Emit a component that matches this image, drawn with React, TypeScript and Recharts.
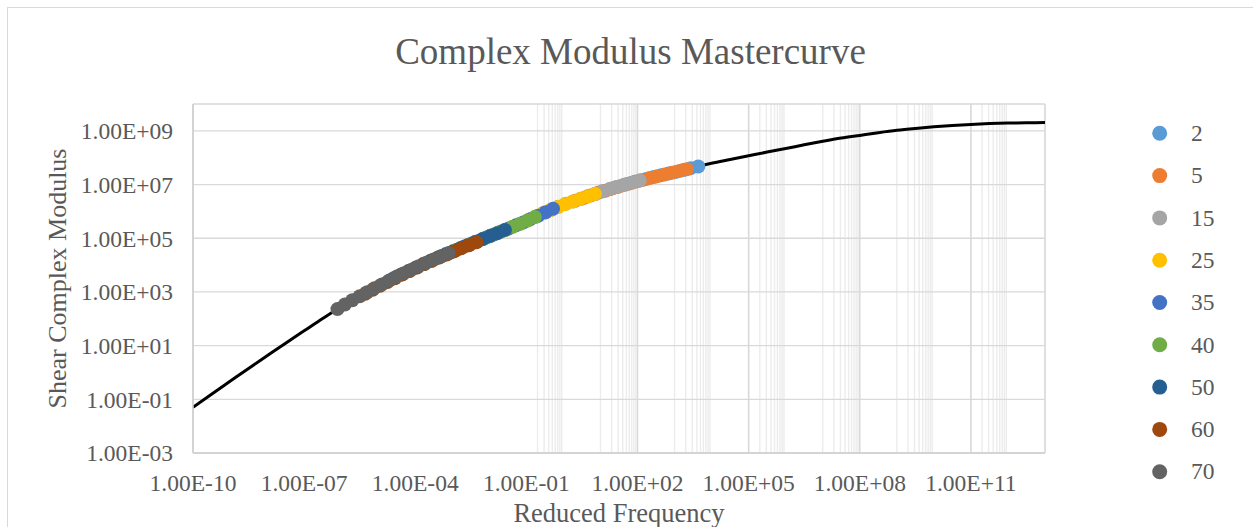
import React from 'react';
import { ComposedChart, Line, Scatter, XAxis, YAxis, CartesianGrid } from 'recharts';

// ---- data (log10 values) ----
const curveLogF = [-10, -9.5, -9, -8.5, -8, -7.5, -7, -6.5, -6, -5.5, -5, -4.5, -4, -3.5, -3, -2.5, -2, -1.5, -1, -0.5, 0, 0.5, 1, 1.5, 2, 2.5, 3, 3.5, 4, 4.5, 5, 5.5, 6, 6.5, 7, 7.5, 8, 8.5, 9, 9.5, 10, 10.5, 11, 11.5, 12, 12.5, 13];
const curveLogG = [-1.30, -0.81, -0.33, 0.15, 0.62, 1.09, 1.55, 2.01, 2.45, 2.84, 3.21, 3.57, 3.90, 4.21, 4.50, 4.79, 5.07, 5.35, 5.64, 5.96, 6.25, 6.48, 6.72, 6.93, 7.13, 7.30, 7.46, 7.63, 7.79, 7.93, 8.07, 8.21, 8.34, 8.48, 8.61, 8.73, 8.83, 8.93, 9.02, 9.09, 9.15, 9.20, 9.24, 9.27, 9.29, 9.30, 9.31];

const seriesNames = ['2', '5', '15', '25', '35', '40', '50', '60', '70'];
const seriesColors = ['#5B9BD5', '#ED7D31', '#A5A5A5', '#FFC000', '#4472C4', '#70AD47', '#255E91', '#9E480E', '#636363'];

const t2LogF = [0.64, 0.84, 1.04, 1.24, 1.44, 1.64, 1.84, 2.04, 2.24, 2.44, 2.64, 2.84, 3.04, 3.24, 3.44, 3.64];
const t2LogG = [6.55, 6.64, 6.74, 6.82, 6.91, 6.99, 7.07, 7.14, 7.21, 7.28, 7.35, 7.41, 7.47, 7.54, 7.61, 7.67];
const t5LogF = [0.33, 0.53, 0.73, 0.93, 1.13, 1.33, 1.53, 1.73, 1.93, 2.13, 2.33, 2.53, 2.73, 2.93, 3.13, 3.33];
const t5LogG = [6.40, 6.49, 6.59, 6.69, 6.77, 6.86, 6.94, 7.02, 7.10, 7.17, 7.24, 7.31, 7.37, 7.44, 7.50, 7.57];
const t15LogF = [-0.94, -0.74, -0.54, -0.34, -0.14, 0.06, 0.26, 0.46, 0.66, 0.86, 1.06, 1.26, 1.46, 1.66, 1.86, 2.06];
const t15LogG = [5.68, 5.81, 5.94, 6.05, 6.17, 6.28, 6.37, 6.46, 6.56, 6.65, 6.75, 6.83, 6.91, 6.99, 7.07, 7.15];
const t25LogF = [-2.15, -1.95, -1.75, -1.55, -1.35, -1.15, -0.95, -0.75, -0.55, -0.35, -0.15, 0.05, 0.25, 0.45, 0.65, 0.85];
const t25LogG = [4.99, 5.10, 5.21, 5.32, 5.44, 5.55, 5.67, 5.80, 5.93, 6.05, 6.16, 6.27, 6.37, 6.46, 6.55, 6.65];
const t35LogF = [-3.28, -3.08, -2.88, -2.68, -2.48, -2.28, -2.08, -1.88, -1.68, -1.48, -1.28, -1.08, -0.88, -0.68, -0.48, -0.28];
const t35LogG = [4.34, 4.45, 4.57, 4.69, 4.80, 4.91, 5.03, 5.14, 5.25, 5.36, 5.48, 5.59, 5.72, 5.84, 5.97, 6.10];
const t40LogF = [-3.77, -3.57, -3.37, -3.17, -2.97, -2.77, -2.57, -2.37, -2.17, -1.97, -1.77, -1.57, -1.37, -1.17, -0.97, -0.77];
const t40LogG = [4.04, 4.17, 4.29, 4.40, 4.52, 4.63, 4.75, 4.86, 4.97, 5.09, 5.20, 5.31, 5.43, 5.54, 5.66, 5.79];
const t50LogF = [-4.58, -4.38, -4.18, -3.98, -3.78, -3.58, -3.38, -3.18, -2.98, -2.78, -2.58, -2.38, -2.18, -1.98, -1.78, -1.58];
const t50LogG = [3.51, 3.65, 3.78, 3.91, 4.04, 4.16, 4.28, 4.40, 4.51, 4.63, 4.74, 4.86, 4.97, 5.08, 5.19, 5.31];
const t60LogF = [-5.35, -5.15, -4.95, -4.75, -4.55, -4.35, -4.15, -3.95, -3.75, -3.55, -3.35, -3.15, -2.95, -2.75, -2.55, -2.35];
const t60LogG = [2.93, 3.08, 3.23, 3.37, 3.51, 3.65, 3.78, 3.91, 4.04, 4.16, 4.28, 4.39, 4.51, 4.63, 4.74, 4.85];
const t70LogF = [-6.1, -5.9, -5.7, -5.5, -5.3, -5.1, -4.9, -4.7, -4.5, -4.3, -4.1, -3.9, -3.7, -3.5, -3.3, -3.1];
const t70LogG = [2.36, 2.53, 2.69, 2.84, 2.99, 3.14, 3.28, 3.43, 3.57, 3.70, 3.83, 3.96, 4.09, 4.21, 4.33, 4.44];

const seriesLogF = [t2LogF, t5LogF, t15LogF, t25LogF, t35LogF, t40LogF, t50LogF, t60LogF, t70LogF];
const seriesLogG = [t2LogG, t5LogG, t15LogG, t25LogG, t35LogG, t40LogG, t50LogG, t60LogG, t70LogG];

// ---- axes ----
const xTicks = [1e-10, 1e-7, 1e-4, 1e-1, 1e2, 1e5, 1e8, 1e11];
const yTicks = [1e-3, 1e-1, 1e1, 1e3, 1e5, 1e7, 1e9];
const xDomain = [1e-10, 1e13];
const yDomain = [1e-3, 1e10];
const majorGridX = [1e2, 1e5, 1e8, 1e11];
const minorGridExps = [-1, 1, 3, 5, 7, 9, 11];
const minorGridMults = [1, 2, 3, 4, 5, 6, 7, 8, 9];
const minorGridX: number[] = [];
minorGridExps.forEach((e) => {
  minorGridMults.forEach((m) => {
    if (!(e === -1 && m === 1)) minorGridX.push(m * Math.pow(10, e));
  });
});
minorGridX.push(1e13);

const toPts = (lf: number[], lg: number[]) => lf.map((v, i) => ({ f: Math.pow(10, v), g: Math.pow(10, lg[i]) }));
const curveData = toPts(curveLogF, curveLogG);

const fmt = (v: number) => {
  const [m, e] = v.toExponential(2).split('e');
  const n = parseInt(e, 10);
  return `${m}E${n < 0 ? '-' : '+'}${String(Math.abs(n)).padStart(2, '0')}`;
};

const FONT = '"Liberation Serif", "Times New Roman", Times, serif';
const TXT = '#595959';

export default function App() {
  return (
    <div style={{ position: 'absolute', left: 0, top: 0, width: 1253, height: 527, overflow: 'hidden', background: '#fff', fontFamily: FONT }}>
      <div style={{ position: 'absolute', left: 7, top: 7, width: 1270, height: 540, border: '1px solid #d9d9d9', boxSizing: 'border-box' }} />
      <div style={{ position: 'absolute', left: 0, top: 0 }}>
        <ComposedChart width={1253} height={527} margin={{ top: 104, right: 208, bottom: 0, left: 0 }}>
          <XAxis xAxisId="minor" type="number" dataKey="f" scale="log" domain={xDomain} allowDataOverflow ticks={minorGridX} interval={0} hide />
          <XAxis xAxisId="major" type="number" dataKey="f" scale="log" domain={xDomain} allowDataOverflow ticks={majorGridX} interval={0} hide />
          <CartesianGrid xAxisId="minor" horizontal={false} stroke="#ececec" strokeWidth={1.4} />
          <CartesianGrid xAxisId="major" horizontal={false} stroke="#d9d9d9" strokeWidth={1.5} />
          <CartesianGrid vertical={false} stroke="#d9d9d9" strokeWidth={1.3} />
          <XAxis
            type="number"
            dataKey="f"
            scale="log"
            domain={xDomain}
            allowDataOverflow
            ticks={xTicks}
            tickFormatter={fmt}
            height={74}
            tickLine={false}
            tickSize={0}
            tickMargin={21}
            axisLine={{ stroke: '#cfcfcf', strokeWidth: 1.5 }}
            tick={{ fill: TXT, fontSize: 23.5, fontFamily: FONT }}
            interval={0}
          />
          <YAxis
            type="number"
            dataKey="g"
            scale="log"
            domain={yDomain}
            allowDataOverflow
            ticks={yTicks}
            tickFormatter={fmt}
            width={193}
            tickLine={false}
            tickSize={0}
            tickMargin={20}
            axisLine={{ stroke: '#cfcfcf', strokeWidth: 1.5 }}
            tick={{ fill: TXT, fontSize: 23.5, fontFamily: FONT }}
            interval={0}
          />
          <Line data={curveData} dataKey="g" type="monotone" stroke="#000000" strokeWidth={3} dot={false} activeDot={false} isAnimationActive={false} legendType="none" />
          {seriesNames.map((name, i) => (
            <Scatter
              key={name}
              name={name}
              data={toPts(seriesLogF[i], seriesLogG[i])}
              fill={seriesColors[i]}
              isAnimationActive={false}
              shape={(p: any) => <circle cx={p.cx} cy={p.cy} r={7} fill={seriesColors[i]} />}
            />
          ))}
        </ComposedChart>
      </div>
      <svg width={1253} height={527} style={{ position: 'absolute', left: 0, top: 0, pointerEvents: 'none' }}>
        <text x={630.5} y={64} textAnchor="middle" fontSize={37} fill={TXT} fontFamily={FONT}>Complex Modulus Mastercurve</text>
        <text x={619} y={521.5} textAnchor="middle" fontSize={26.5} fill={TXT} fontFamily={FONT}>Reduced Frequency</text>
        <text transform="translate(66,278.5) rotate(-90)" textAnchor="middle" fontSize={26} fill={TXT} fontFamily={FONT}>Shear Complex Modulus</text>
        {seriesNames.map((name, i) => (
          <g key={name}>
            <circle cx={1159.7} cy={133.3 + i * 42.3} r={7.5} fill={seriesColors[i]} />
            <text x={1191} y={133.3 + i * 42.3} dy="0.33em" fontSize={23.5} fill={TXT} fontFamily={FONT}>{name}</text>
          </g>
        ))}
      </svg>
    </div>
  );
}
